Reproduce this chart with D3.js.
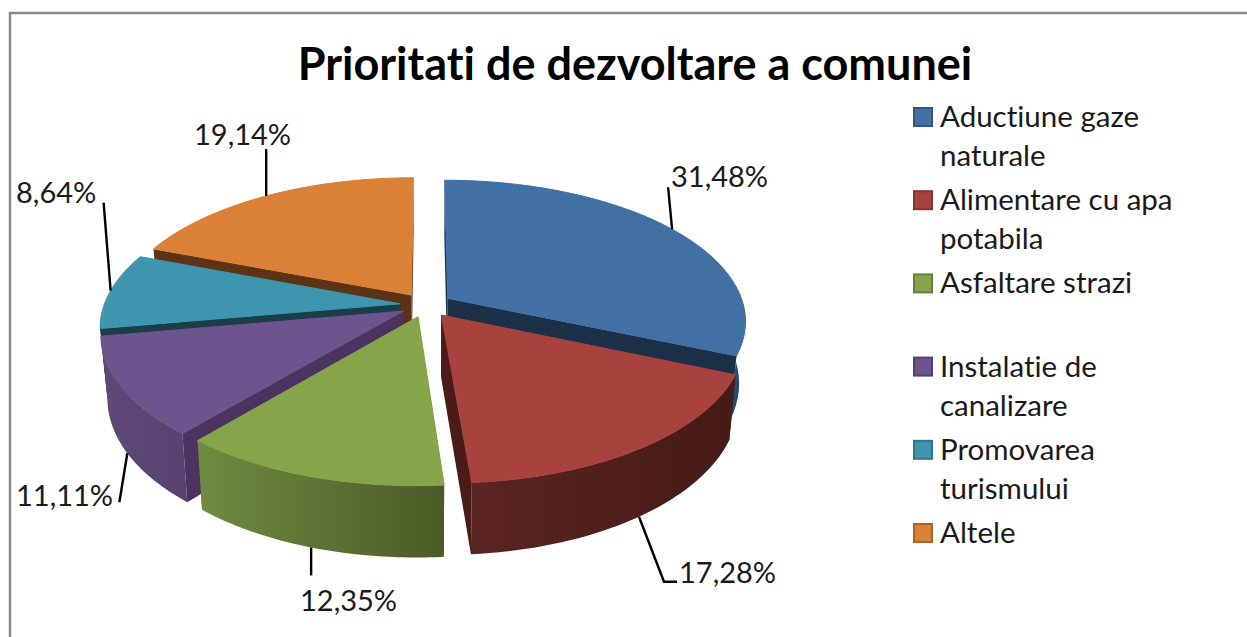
<!DOCTYPE html>
<html>
<head>
<meta charset="utf-8">
<script src="https://cdn.jsdelivr.net/npm/d3@7"></script>
<style>
  html, body { margin: 0; padding: 0; background: #fff; overflow: hidden; }
  svg { display: block; font-family: Lato, sans-serif; font-variant-ligatures: none; }
</style>
</head>
<body>
<div class="board"></div>
<script>
(function() {

  var title = 'Prioritati de dezvoltare a comunei';
  var categories = ['Aductiune gaze naturale', 'Alimentare cu apa potabila', 'Asfaltare strazi', 'Instalatie de canalizare', 'Promovarea turismului', 'Altele'];
  var values = [31.48, 17.28, 12.35, 11.11, 8.64, 19.14];

  // colours, one per slice
  var topColors = ['#4170a5', '#a8423f', '#86a44a', '#6e548d', '#3d96ae', '#da8137'];
  var sideColors = ['#1c2f48', '#4a1b18', '#3f4d22', '#4b3560', '#1b3d47', '#5c3415'];
  var wallLeft = ['#2a5382', '#5a2421', '#708b40', '#5f4877', '#1b3d47', '#a5622a'];
  var wallRight = ['#234a78', '#451a17', '#4a5a27', '#5a4270', '#1b3d47', '#8f5424'];

  // legend rows, wrapped as in the picture
  var legendLines = [['Aductiune gaze', 'naturale'], ['Alimentare cu apa', 'potabila'], ['Asfaltare strazi'], ['Instalatie de', 'canalizare'], ['Promovarea', 'turismului'], ['Altele']];

  // where each leader line ends and where its label sits, relative to the rim anchor
  var leaderEnds = [[-4, -42], [25, 65, 38, 65], [0, 28], [-8, 49], [-7, -88], [0, -47]];
  var labelPos = [[671, 187], [679, 583], [300, 611], [16, 506], [16, 203], [194, 145]];

  var width = 1247, height = 637;
  var cx = 426, cy = 305;
  var rx = 296, ry = 138.5;
  var persp = 0.156, explode = 0.088;
  var drop = 61, bottomX = 0.98, bottomY = 1.06;

  var svg = d3.select('.board')
    .append('svg')
    .attr('width', width)
    .attr('height', height);

  var defs = svg.append('defs');

  // frame, only top and left edges are in the picture
  svg.append('path')
    .attr('d', 'M10,637V13H1247')
    .attr('fill', 'none')
    .attr('stroke', '#8a8a8a')
    .attr('stroke-width', 2.5);

  svg.append('text')
    .attr('x', 635)
    .attr('y', 80)
    .attr('text-anchor', 'middle')
    .attr('font-size', 45)
    .attr('font-weight', 700)
    .attr('fill', '#000')
    .text(title);

  // turn a disc position (u to the right, v towards the viewer) into screen position
  function project(u, v) {
    var s = 1 / (1 - persp * v);
    return [cx + rx * u * s, cy + ry * v * s];
  }

  function under(p) {
    return [cx + (p[0] - cx) * bottomX, cy + (p[1] - cy) * bottomY + drop];
  }

  function rimPoint(a, mid, r) {
    return project(r * Math.sin(a) + explode * Math.sin(mid), -r * Math.cos(a) - explode * Math.cos(mid));
  }

  var pie = d3.pie().sort(null).value(function(d) { return d; });
  var arcs = pie(values);
  var line = d3.line();

  arcs.forEach(function(d) {
    d.mid = (d.startAngle + d.endAngle) / 2;
    d.apex = rimPoint(0, d.mid, 0);
    var steps = d3.range(0, 41).map(function(i) { return d.startAngle + (d.endAngle - d.startAngle) * i / 40; });
    d.rim = steps.map(function(a) { return rimPoint(a, d.mid, 1); });
    d.rimBottom = d.rim.map(under);
    // only the part of the outer wall that faces the viewer gets painted
    d.front = steps.filter(function(a) { return Math.cos(a) < 0; })
      .map(function(a) { return rimPoint(a, d.mid, 1); });
  });

  // back slices first, so the front ones cover them
  var paintOrder = [0, 5, 4, 3, 2, 1];
  var slices = svg.selectAll('g.slice')
    .data(paintOrder.map(function(i) { return arcs[i]; }))
    .enter()
    .append('g')
    .attr('class', 'slice');

  slices.each(function(d) {
    var g = d3.select(this);
    var i = d.index;
    var xs = d.rim.map(function(p) { return p[0]; });

    var grad = defs.append('linearGradient')
      .attr('id', 'wall' + i)
      .attr('gradientUnits', 'userSpaceOnUse')
      .attr('x1', d3.min(xs)).attr('x2', d3.max(xs))
      .attr('y1', 0).attr('y2', 0);
    grad.append('stop').attr('offset', 0).attr('stop-color', wallLeft[i]);
    grad.append('stop').attr('offset', 1).attr('stop-color', wallRight[i]);

    var first = [d.apex, d.rim[0], d.rimBottom[0], under(d.apex)];
    var last = [d.apex, d.rim[40], d.rimBottom[40], under(d.apex)];
    g.append('path').attr('d', line(first) + 'Z').attr('fill', sideColors[i]);
    g.append('path').attr('d', line(last) + 'Z').attr('fill', sideColors[i]);

    if (d.front.length > 1) {
      g.append('path')
        .attr('d', line(d.front.concat(d.front.map(under).reverse())) + 'Z')
        .attr('fill', 'url(#wall' + i + ')');
    }

    g.append('path')
      .attr('d', line([d.apex].concat(d.rim)) + 'Z')
      .attr('fill', topColors[i])
      .attr('stroke', topColors[i])
      .attr('stroke-width', 1);
  });

  // leader lines start on the rim at the middle of the slice
  var frontSlice = [false, true, true, true, false, false];
  var leaders = svg.selectAll('path.leader')
    .data(arcs)
    .enter()
    .append('path')
    .attr('class', 'leader')
    .attr('fill', 'none')
    .attr('stroke', '#000')
    .attr('stroke-width', 2.4)
    .attr('d', function(d, i) {
      var p = rimPoint(d.mid, d.mid, 1);
      if (frontSlice[i]) p = under(p);
      var pts = [p];
      var e = leaderEnds[i];
      for (var k = 0; k < e.length; k += 2) pts.push([p[0] + e[k], p[1] + e[k + 1]]);
      return line(pts);
    });

  svg.selectAll('text.label')
    .data(values)
    .enter()
    .append('text')
    .attr('class', 'label')
    .attr('x', function(d, i) { return labelPos[i][0]; })
    .attr('y', function(d, i) { return labelPos[i][1]; })
    .attr('font-size', 29)
    .attr('fill', '#1a1a1a')
    .text(function(d) { return d.toFixed(2).replace('.', ',') + '%'; });

  // legend
  var legendY = d3.scaleBand().domain(d3.range(categories.length)).range([107, 107 + 83.2 * 6]);
  var legend = svg.selectAll('g.legend')
    .data(categories)
    .enter()
    .append('g')
    .attr('class', 'legend')
    .attr('transform', function(d, i) { return 'translate(914,' + legendY(i) + ')'; });

  legend.append('rect')
    .attr('width', 18)
    .attr('height', 18)
    .attr('y', 1)
    .attr('fill', function(d, i) { return topColors[i]; })
    .attr('stroke', function(d, i) { return d3.rgb(topColors[i]).darker(0.7); })
    .attr('stroke-width', 2);

  legend.each(function(d, i) {
    d3.select(this).selectAll('text')
      .data(legendLines[i])
      .enter()
      .append('text')
      .attr('x', 26)
      .attr('y', function(t, k) { return 20 + k * 39; })
      .attr('font-size', 29.5)
      .attr('fill', '#1a1a1a')
      .text(function(t) { return t; });
  });

})();
</script>
</body>
</html>
